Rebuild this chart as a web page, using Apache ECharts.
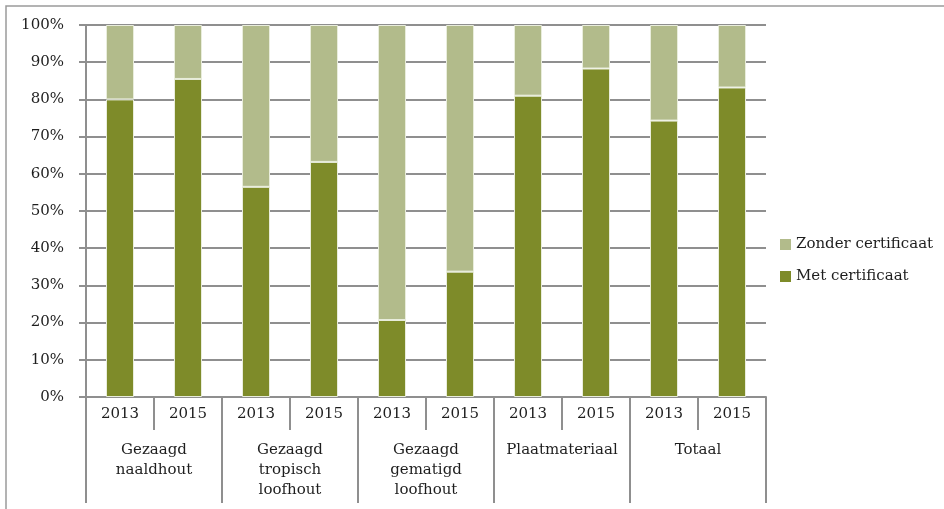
<!DOCTYPE html>
<html>
<head>
<meta charset="utf-8">
<script src="https://cdn.jsdelivr.net/npm/echarts@6/dist/echarts.min.js"></script>
<style>
  html, body { margin: 0; padding: 0; background: #fff; }
  #chart { width: 944px; height: 509px; }
</style>
</head>
<body>
<div id="chart"></div>
<script>
// jaren per groep en de groepen zelf
var years = ['2013', '2015', '2013', '2015', '2013', '2015', '2013', '2015', '2013', '2015'];
var groups = ['Gezaagd\nnaaldhout', 'Gezaagd\ntropisch\nloofhout', 'Gezaagd\ngematigd\nloofhout', 'Plaatmateriaal', 'Totaal'];
var yTicks = [0, 10, 20, 30, 40, 50, 60, 70, 80, 90, 100];

var metCertificaat = [80, 85.5, 56.5, 63.2, 20.7, 33.7, 81, 88.3, 74.3, 83.2];
var zonderCertificaat = [20, 14.5, 43.5, 36.8, 79.3, 66.3, 19, 11.7, 25.7, 16.8];

var font = 'DejaVu Serif';
var gridColor = '#8f8f8f';

var myChart = echarts.init(document.getElementById('chart'));
var option = {
  animation: false,
  textStyle: { fontFamily: font, color: '#1e1e1e' },
  graphic: [{
    type: 'rect',
    shape: { x: 6, y: 6, width: 960, height: 530 },
    style: { fill: 'none', stroke: '#9a9a9a', lineWidth: 1.5 },
    silent: true
  }],
  grid: { left: 86, right: 178, top: 25, bottom: 112, containLabel: false },
  legend: {
    orient: 'vertical',
    left: 775,
    top: 232,
    itemWidth: 11,
    itemHeight: 11,
    itemGap: 17,
    icon: 'rect',
    itemStyle: { borderWidth: 0 },
    data: ['Zonder certificaat', 'Met certificaat'],
    textStyle: { fontFamily: font, fontSize: 15, color: '#1e1e1e' }
  },
  xAxis: [{
    type: 'category',
    data: years,
    position: 'bottom',
    axisLine: { lineStyle: { color: gridColor, width: 2 } },
    axisTick: { show: true, length: 33, interval: 0, lineStyle: { color: gridColor, width: 2 } },
    axisLabel: { interval: 0, margin: 10, fontSize: 15, color: '#1e1e1e', fontFamily: font }
  }, {
    type: 'category',
    data: groups,
    position: 'bottom',
    axisLine: { show: false },
    axisTick: { show: true, length: 106, interval: 0, lineStyle: { color: gridColor, width: 2 } },
    axisLabel: { interval: 0, margin: 43, fontSize: 15, lineHeight: 20, color: '#1e1e1e', fontFamily: font, verticalAlign: 'top' }
  }],
  yAxis: {
    type: 'value',
    min: 0,
    max: 100,
    interval: 10,
    axisLine: { show: true, lineStyle: { color: gridColor, width: 2 } },
    axisTick: { show: true, length: 7, lineStyle: { color: gridColor, width: 2 } },
    splitLine: { show: true, lineStyle: { color: gridColor, width: 2 } },
    axisLabel: {
      margin: 22,
      fontSize: 15,
      color: '#1e1e1e',
      fontFamily: font,
      formatter: function (v) { return yTicks.indexOf(v) >= 0 ? v + '%' : ''; }
    }
  },
  series: [{
    name: 'Met certificaat',
    type: 'bar',
    stack: 'totaal',
    barWidth: 28,
    data: metCertificaat,
    itemStyle: { color: '#7e8b29', borderColor: '#e9eddc', borderWidth: 1 }
  }, {
    name: 'Zonder certificaat',
    type: 'bar',
    stack: 'totaal',
    barWidth: 28,
    data: zonderCertificaat,
    itemStyle: { color: '#b2bb8b', borderColor: '#e9eddc', borderWidth: 1 }
  }]
};
myChart.setOption(option);
</script>
</body>
</html>
